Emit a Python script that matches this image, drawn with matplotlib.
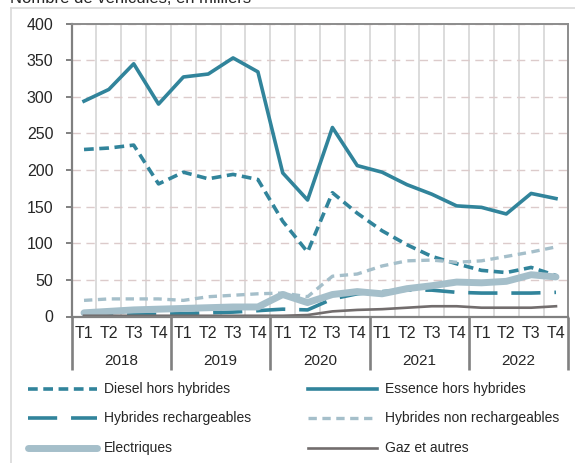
import matplotlib
matplotlib.use('Agg')
import matplotlib.pyplot as plt
import matplotlib.transforms as mtransforms
from matplotlib.lines import Line2D
import numpy as np

plt.rcParams['font.family'] = ['Liberation Sans', 'DejaVu Sans']
plt.rcParams['lines.scale_dashes'] = False

# ---------------- data ----------------
quarters = ['T1', 'T2', 'T3', 'T4']
years = ['2018', '2019', '2020', '2021', '2022']

diesel = [228, 230, 234, 181, 197, 188, 194, 187, 130, 88, 169, 141, 117, 98, 82, 72, 63, 60, 67, 56]
essence = [294, 310, 345, 290, 327, 331, 353, 334, 196, 159, 258, 206, 197, 180, 167, 151, 149, 140, 168, 161]
hyb_rech = [2, 3, 3, 3, 4, 5, 6, 8, 10, 9, 24, 31, 34, 36, 36, 33, 32, 32, 32, 33]
hyb_non_rech = [22, 24, 24, 24, 22, 27, 29, 31, 32, 27, 55, 58, 69, 76, 77, 74, 76, 82, 88, 95]
electriques = [5, 7, 9, 10, 11, 12, 13, 13, 30, 19, 30, 34, 31, 38, 42, 47, 46, 48, 57, 54]
gaz = [1, 1, 1, 1, 1, 1, 1, 1, 1, 2, 7, 9, 10, 12, 14, 14, 12, 12, 12, 14]

labels = ['Diesel hors hybrides', 'Essence hors hybrides', 'Hybrides rechargeables',
          'Hybrides non rechargeables', 'Electriques', 'Gaz et autres']
title = 'Nombre de véhicules, en milliers'

# ---------------- styles ----------------
TEAL = '#31849b'
LIGHT = '#a5bfca'
GREY = '#726d6d'
styles = [
    dict(color=TEAL, lw=2.6, dashes=(7.0, 4.0)),
    dict(color=TEAL, lw=2.6, linestyle='-'),
    dict(color=TEAL, lw=2.6, dashes=(21, 10)),
    dict(color=LIGHT, lw=2.4, dashes=(6, 4)),
    dict(color=LIGHT, lw=5.0, linestyle='-', solid_capstyle='round'),
    dict(color=GREY, lw=1.9, linestyle='-'),
]
series = [diesel, essence, hyb_rech, hyb_non_rech, electriques, gaz]

W, H = 575, 463
fig = plt.figure(figsize=(W / 100, H / 100), dpi=100)


def fx(px):
    return px / W


def fy(py):
    return 1 - py / H


x0, x1, ytop, ybot = 71.6, 568.4, 23.5, 316.5
ax = fig.add_axes([fx(x0), fy(ybot), fx(x1) - fx(x0), fy(ytop) - fy(ybot)])

n = len(essence)
xs = np.arange(n)
for s, st in zip(series, styles):
    ax.plot(xs, s, clip_on=False, **st)

ax.set_xlim(-0.5, n - 0.5)
ax.set_ylim(0, 400)
ax.set_yticks(range(0, 401, 50))
ax.set_xticks([])
ax.set_xticks(np.arange(0.5, n - 1, 1), minor=True)
ax.xaxis.grid(True, which='minor', color='#d9d9d9', lw=1.3)
ax.yaxis.grid(True, color='#dccbcb', lw=1.0, dashes=(6, 4))
ax.set_axisbelow(True)
ax.tick_params(axis='y', direction='out', length=4, width=1.4, color='#808080',
               labelsize=11.5, pad=9, labelcolor='#262626')
ax.tick_params(axis='x', which='both', length=0)
for side in ['left', 'bottom']:
    ax.spines[side].set_color('#808080')
    ax.spines[side].set_linewidth(1.6)
for side in ['top', 'right']:
    ax.spines[side].set_color('#8c8c8c')
    ax.spines[side].set_linewidth(1.4)

# multi-level category axis
trans = mtransforms.blended_transform_factory(ax.transData, ax.transAxes)
hpx = ybot - ytop
qy = -(333 - ybot) / hpx
yy = -(361 - ybot) / hpx
sep_bottom = -(370 - ybot) / hpx
for i in range(n):
    ax.text(i, qy, quarters[i % 4], transform=trans, ha='center', va='center',
            fontsize=11.5, color='#262626')
for j, yr in enumerate(years):
    ax.text(4 * j + 1.5, yy, yr, transform=trans, ha='center', va='center',
            fontsize=11, color='#262626')
for xb in np.arange(-0.5, n, 4):
    ax.plot([xb, xb], [0, sep_bottom], transform=trans, color='#808080', lw=1.9,
            clip_on=False, solid_capstyle='butt')

# outer chart frame (left and top edges)
fig.add_artist(Line2D([fx(11), fx(11)], [fy(8), 0], color='#d9d9d9', lw=1.2))
fig.add_artist(Line2D([fx(11), 1], [fy(8), fy(8)], color='#d9d9d9', lw=1.2))

# title (cut at top, as in the reference)
fig.text(fx(10), fy(2.7), title, fontsize=12, ha='left', va='baseline', color='#262626')

# legend
cols = [(28, 97, 104), (308, 377, 385)]
rows = [389, 418, 448]
for k, (lab, st) in enumerate(zip(labels, styles)):
    c = cols[k % 2]
    r = rows[k // 2]
    st2 = dict(st)
    lw = st2.pop('lw')
    ln = Line2D([fx(c[0]), fx(c[1])], [fy(r), fy(r)], linewidth=lw, **st2)
    fig.add_artist(ln)
    fig.text(fx(c[2]), fy(r), lab, fontsize=10, ha='left', va='center', color='#262626')

fig.savefig('out.png', dpi=100)
